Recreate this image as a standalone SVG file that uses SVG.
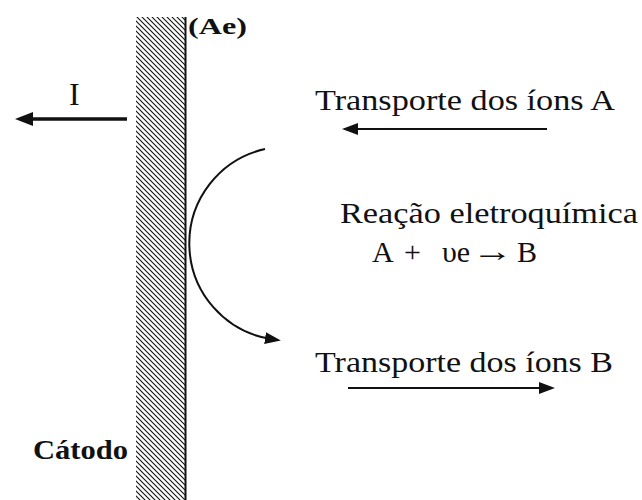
<svg xmlns="http://www.w3.org/2000/svg" width="642" height="500" viewBox="0 0 642 500">
<style>
  .t { font-family: "Liberation Serif", "DejaVu Serif", serif; fill: #111; }
  .b { font-weight: bold; }
  .ln { stroke: #111; fill: none; stroke-width: 2; }
</style>
<defs>
  <pattern id="hatch" patternUnits="userSpaceOnUse" width="5" height="5">
    <path d="M0,0 L5,5 M-1,4 L1,6 M4,-1 L6,1" stroke="#111" stroke-width="1.1"/>
  </pattern>
  <marker id="ah" viewBox="0 0 16 12" refX="6" refY="6" markerWidth="16" markerHeight="12" markerUnits="userSpaceOnUse" orient="auto">
    <path d="M0,0 L16,6 L0,12 z" fill="#111"/>
  </marker>
  <marker id="ahI" viewBox="0 0 18 14" refX="6" refY="7" markerWidth="18" markerHeight="14" markerUnits="userSpaceOnUse" orient="auto">
    <path d="M0,0 L18,7 L0,14 z" fill="#111"/>
  </marker>
</defs>
<rect width="642" height="500" fill="#fff"/>
<g id="cathode">
  <rect x="136" y="17" width="49" height="483" fill="url(#hatch)"/>
  <line x1="185.5" y1="17" x2="185.5" y2="500" stroke="#111" stroke-width="2"/>
</g>
<g id="label-ae"><text class="t b" x="188" y="34" font-size="24" textLength="59" lengthAdjust="spacingAndGlyphs">(Ae)</text></g>
<g id="label-catodo"><text class="t b" x="33" y="459" font-size="28" textLength="95" lengthAdjust="spacingAndGlyphs">Cátodo</text></g>
<g id="label-i"><text class="t" x="69" y="105" font-size="32">I</text></g>
<g id="transport-a"><text class="t" x="315" y="110" font-size="30" textLength="300" lengthAdjust="spacingAndGlyphs">Transporte dos íons A</text></g>
<g id="reaction">
  <text class="t" x="340" y="223" font-size="30" textLength="298" lengthAdjust="spacingAndGlyphs">Reação eletroquímica</text>
  <text class="t" y="262" font-size="30"><tspan x="372">A</tspan><tspan x="404">+</tspan><tspan x="442">υe</tspan><tspan x="517">B</tspan></text>
  <text class="t" x="472" y="261" font-size="30" textLength="41" lengthAdjust="spacingAndGlyphs">→</text>
</g>
<g id="transport-b"><text class="t" x="315" y="372" font-size="30" textLength="298" lengthAdjust="spacingAndGlyphs">Transporte dos íons B</text></g>
<g id="connectors">
  <line x1="127" y1="119" x2="27" y2="119" stroke="#111" stroke-width="3.5" marker-end="url(#ahI)"/>
  <line class="ln" x1="547" y1="129" x2="352" y2="129" marker-end="url(#ah)"/>
  <line class="ln" x1="348" y1="388" x2="545" y2="388" marker-end="url(#ah)"/>
  <path class="ln" d="M265,149 A96.75,96.75 0 0,0 271,339" marker-end="url(#ah)"/>
</g>
</svg>
